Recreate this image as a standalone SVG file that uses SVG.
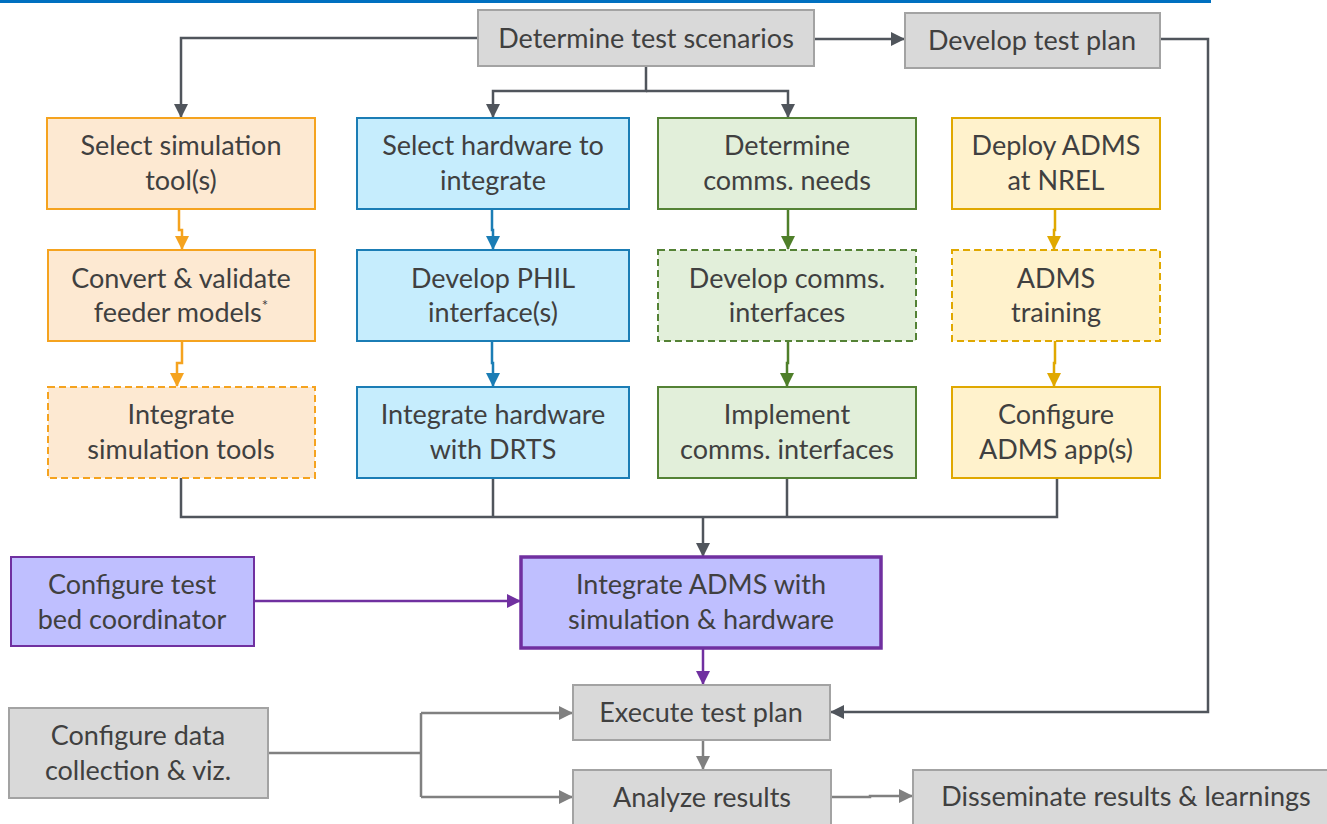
<svg xmlns="http://www.w3.org/2000/svg" width="1327" height="824" viewBox="0 0 1327 824">
<style>
text{font-family:Lato,"Open Sans","Liberation Sans",sans-serif;font-size:27px;fill:#404040;text-anchor:middle}
.gray{fill:#d9d9d9;stroke:#a3a3a3;stroke-width:2}
.org{fill:#fde9d2;stroke:#f5a31f;stroke-width:2}
.blu{fill:#c6edfd;stroke:#1b7db5;stroke-width:2}
.grn{fill:#e2efda;stroke:#548235;stroke-width:2}
.yel{fill:#fff2cc;stroke:#e0a800;stroke-width:2}
.pur{fill:#bfbfff;stroke:#7030a0;stroke-width:2}
.dash{stroke-dasharray:7 4}
.c{fill:none;stroke-width:2.5}
.cd{stroke:#50555c}
.co{stroke:#f5a31f}
.cb{stroke:#1b7db5}
.cg{stroke:#4f7f2a}
.cy{stroke:#e0a800}
.cp{stroke:#7030a0}
.cl{stroke:#808080}
</style>
<defs>
<marker id="ad" markerUnits="userSpaceOnUse" markerWidth="14" markerHeight="14" refX="13" refY="7" orient="auto"><path d="M0,0 L14,7 L0,14 Z" fill="#50555c"/></marker>
<marker id="ao" markerUnits="userSpaceOnUse" markerWidth="14" markerHeight="14" refX="13" refY="7" orient="auto"><path d="M0,0 L14,7 L0,14 Z" fill="#f5a31f"/></marker>
<marker id="ab" markerUnits="userSpaceOnUse" markerWidth="14" markerHeight="14" refX="13" refY="7" orient="auto"><path d="M0,0 L14,7 L0,14 Z" fill="#1b7db5"/></marker>
<marker id="ag" markerUnits="userSpaceOnUse" markerWidth="14" markerHeight="14" refX="13" refY="7" orient="auto"><path d="M0,0 L14,7 L0,14 Z" fill="#4f7f2a"/></marker>
<marker id="ay" markerUnits="userSpaceOnUse" markerWidth="14" markerHeight="14" refX="13" refY="7" orient="auto"><path d="M0,0 L14,7 L0,14 Z" fill="#e0a800"/></marker>
<marker id="ap" markerUnits="userSpaceOnUse" markerWidth="14" markerHeight="14" refX="13" refY="7" orient="auto"><path d="M0,0 L14,7 L0,14 Z" fill="#7030a0"/></marker>
<marker id="al" markerUnits="userSpaceOnUse" markerWidth="14" markerHeight="14" refX="13" refY="7" orient="auto"><path d="M0,0 L14,7 L0,14 Z" fill="#808080"/></marker>
</defs>
<rect x="0" y="0" width="1211" height="3" fill="#0070c0"/>
<g id="connectors">
<path class="c cd" d="M478,38 H181 V117" marker-end="url(#ad)"/>
<path class="c cd" d="M814,39 H904" marker-end="url(#ad)"/>
<path class="c cd" d="M646,66 V91 H493 V117" marker-end="url(#ad)"/>
<path class="c cd" d="M646,91 H788 V117" marker-end="url(#ad)"/>
<path class="c cd" d="M1160,39 H1208 V712 H831" marker-end="url(#ad)"/>
<path class="c co" d="M179,209 V230 H182 V249" marker-end="url(#ao)"/>
<path class="c co" d="M182,341 V363 H177 V386" marker-end="url(#ao)"/>
<path class="c cb" d="M492,209 V230 H493 V249" marker-end="url(#ab)"/>
<path class="c cb" d="M492,341 V363 H493 V386" marker-end="url(#ab)"/>
<path class="c cg" d="M788,209 V249" marker-end="url(#ag)"/>
<path class="c cg" d="M788,341 V363 H787 V386" marker-end="url(#ag)"/>
<path class="c cy" d="M1055,209 V230 H1054 V249" marker-end="url(#ay)"/>
<path class="c cy" d="M1055,341 V363 H1054 V386" marker-end="url(#ay)"/>
<path class="c cd" d="M181,478 V517 H1057 V478 M493,478 V517 M787,478 V517"/>
<path class="c cd" d="M703,517 V556" marker-end="url(#ad)"/>
<path class="c cp" d="M254,601 H520" marker-end="url(#ap)"/>
<path class="c cp" d="M703,649 V684" marker-end="url(#ap)"/>
<path class="c cl" d="M268,753 H421 M421,713 V797" />
<path class="c cl" d="M421,713 H572" marker-end="url(#al)"/>
<path class="c cl" d="M421,797 H572" marker-end="url(#al)"/>
<path class="c cl" d="M703,740 V769" marker-end="url(#al)"/>
<path class="c cl" d="M831,797 H870 V796 H912" marker-end="url(#al)"/>
</g>
<g id="n_scenarios"><rect class="gray" x="478" y="10" width="336" height="56"/><text x="646" y="48">Determine test scenarios</text></g>
<g id="n_testplan"><rect class="gray" x="905" y="13" width="255" height="55"/><text x="1032" y="50">Develop test plan</text></g>
<g id="n_simtool"><rect class="org" x="47" y="118" width="268" height="91"/><text x="181" y="155">Select simulation</text><text x="181" y="190">tool(s)</text></g>
<g id="n_hw"><rect class="blu" x="357" y="118" width="272" height="91"/><text x="493" y="155">Select hardware to</text><text x="493" y="190">integrate</text></g>
<g id="n_comms"><rect class="grn" x="658" y="118" width="258" height="91"/><text x="787" y="155">Determine</text><text x="787" y="190">comms. needs</text></g>
<g id="n_deploy"><rect class="yel" x="952" y="118" width="208" height="91"/><text x="1056" y="155">Deploy ADMS</text><text x="1056" y="190">at NREL</text></g>
<g id="n_convert"><rect class="org" x="48" y="250" width="267" height="91"/><text x="181" y="288">Convert &amp; validate</text><text x="181" y="322">feeder models<tspan font-size="15" dy="-11">*</tspan></text></g>
<g id="n_phil"><rect class="blu" x="357" y="250" width="272" height="91"/><text x="493" y="288">Develop PHIL</text><text x="493" y="322">interface(s)</text></g>
<g id="n_devcomms"><rect class="grn dash" x="658" y="250" width="258" height="91"/><text x="787" y="288">Develop comms.</text><text x="787" y="322">interfaces</text></g>
<g id="n_training"><rect class="yel dash" x="952" y="250" width="208" height="91"/><text x="1056" y="288">ADMS</text><text x="1056" y="322">training</text></g>
<g id="n_intsim"><rect class="org dash" x="48" y="387" width="267" height="91"/><text x="181" y="424">Integrate</text><text x="181" y="459">simulation tools</text></g>
<g id="n_inthw"><rect class="blu" x="357" y="387" width="272" height="91"/><text x="493" y="424">Integrate hardware</text><text x="493" y="459">with DRTS</text></g>
<g id="n_impl"><rect class="grn" x="658" y="387" width="258" height="91"/><text x="787" y="424">Implement</text><text x="787" y="459">comms. interfaces</text></g>
<g id="n_config"><rect class="yel" x="952" y="387" width="208" height="91"/><text x="1056" y="424">Configure</text><text x="1056" y="459">ADMS app(s)</text></g>
<g id="n_coord"><rect class="pur" x="11" y="557" width="243" height="89"/><text x="132" y="594">Configure test</text><text x="132" y="629">bed coordinator</text></g>
<g id="n_intadms"><rect class="pur" style="stroke-width:3.5" x="521" y="557" width="360" height="91"/><text x="701" y="594">Integrate ADMS with</text><text x="701" y="629">simulation &amp; hardware</text></g>
<g id="n_data"><rect class="gray" x="9" y="708" width="259" height="90"/><text x="138" y="745">Configure data</text><text x="138" y="780">collection &amp; viz.</text></g>
<g id="n_execute"><rect class="gray" x="573" y="685" width="257" height="55"/><text x="701" y="722">Execute test plan</text></g>
<g id="n_analyze"><rect class="gray" x="573" y="770" width="258" height="56"/><text x="702" y="807">Analyze results</text></g>
<g id="n_dissem"><rect class="gray" x="913" y="770" width="416" height="56"/><text x="1126" y="806">Disseminate results &amp; learnings</text></g>
</svg>
